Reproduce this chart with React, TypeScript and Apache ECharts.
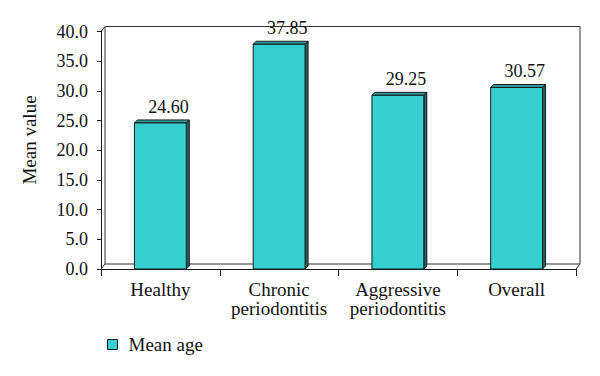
import React, { useEffect, useRef } from "react";
import * as echarts from "echarts";

const categories = ["Healthy", "Chronic\nperiodontitis", "Aggressive\nperiodontitis", "Overall"];
const meanAge = [24.6, 37.85, 29.25, 30.57];
const seriesName = "Mean age";
const yMin = 0;
const yMax = 40;
const yStep = 5;

const FONT = "Liberation Serif, Times New Roman, serif";
const GRID_L = 101;
const GRID_T = 31.5;
const GRID_R = 576;
const GRID_B = 269;
const DX = 4;
const DY = 5;
const FACE = "#35CFCF";
const TOPFACE = "#2B9B9B";
const SIDEFACE = "#1E6464";
const EDGE = "#1a1a1a";

export default function App() {
  const ref = useRef<HTMLDivElement>(null);
  useEffect(() => {
    if (!ref.current) return;
    const chart = echarts.init(ref.current, undefined, { renderer: "svg" });
    const wallStyle = { stroke: "#333", lineWidth: 1, fill: "none" };
    chart.setOption({
      animation: false,
      backgroundColor: "#fff",
      grid: { left: GRID_L, top: GRID_T, right: 600 - GRID_R, bottom: 376 - GRID_B },
      legend: {
        left: 107,
        top: 335,
        padding: 0,
        itemWidth: 10,
        itemHeight: 10,
        data: [{ name: seriesName, icon: "rect" }],
        itemStyle: { color: FACE, borderColor: EDGE, borderWidth: 1 },
        textStyle: { fontFamily: FONT, fontSize: 19, color: "#111", padding: [0, 0, 0, 6] },
      },
      xAxis: {
        type: "category",
        data: categories,
        boundaryGap: true,
        axisLine: { lineStyle: { color: EDGE, width: 1 } },
        axisTick: { show: true, length: 7, interval: 0, lineStyle: { color: EDGE } },
        axisLabel: {
          interval: 0,
          margin: 11,
          fontFamily: FONT,
          fontSize: 19,
          lineHeight: 19,
          color: "#111",
        },
      },
      yAxis: {
        type: "value",
        min: yMin,
        max: yMax,
        interval: yStep,
        splitLine: { show: false },
        axisLine: { show: true, lineStyle: { color: EDGE, width: 1 } },
        axisTick: { show: true, length: 4, lineStyle: { color: EDGE } },
        axisLabel: {
          margin: 13,
          fontFamily: FONT,
          fontSize: 18,
          color: "#111",
          formatter: (v: number) => v.toFixed(1),
        },
      },
      graphic: [
        {
          type: "polyline",
          z: 0,
          shape: {
            points: [
              [GRID_L + DX, GRID_B - DY],
              [GRID_L + DX, GRID_T - DY],
              [GRID_R + DX, GRID_T - DY],
              [GRID_R + DX, GRID_B - DY],
              [GRID_L + DX, GRID_B - DY],
            ],
          },
          style: wallStyle,
        },
        { type: "line", z: 0, shape: { x1: GRID_L, y1: GRID_T, x2: GRID_L + DX, y2: GRID_T - DY }, style: wallStyle },
        { type: "line", z: 0, shape: { x1: GRID_L, y1: GRID_B, x2: GRID_L + DX, y2: GRID_B - DY }, style: wallStyle },
        { type: "line", z: 0, shape: { x1: GRID_R, y1: GRID_B, x2: GRID_R + DX, y2: GRID_B - DY }, style: wallStyle },
        {
          type: "text",
          z: 5,
          x: 29,
          y: 140,
          rotation: Math.PI / 2,
          style: {
            text: "Mean value",
            font: `19px ${FONT}`,
            fill: "#111",
            textAlign: "center",
            textVerticalAlign: "middle",
          },
        },
      ],
      series: [
        {
          type: "custom",
          name: seriesName,
          z: 3,
          itemStyle: { color: FACE },
          data: meanAge.map((v, i) => [i, v]),
          renderItem: (params: any, api: any) => {
            const idx = api.value(0);
            const val = api.value(1);
            const base = api.coord([idx, 0]);
            const top = api.coord([idx, val]);
            const bw = api.size([1, 0])[0] * 0.437;
            const l = top[0] - bw / 2;
            const r = top[0] + bw / 2;
            const d = 3;
            const h = 3;
            return {
              type: "group",
              children: [
                {
                  type: "polygon",
                  shape: { points: [[r, top[1]], [r + d, top[1] - h], [r + d, base[1] - h], [r, base[1]]] },
                  style: { fill: SIDEFACE, stroke: EDGE, lineWidth: 1 },
                },
                {
                  type: "polygon",
                  shape: { points: [[l, top[1]], [l + d, top[1] - h], [r + d, top[1] - h], [r, top[1]]] },
                  style: { fill: TOPFACE, stroke: EDGE, lineWidth: 1 },
                },
                {
                  type: "rect",
                  shape: { x: l, y: top[1], width: bw, height: base[1] - top[1] },
                  style: { fill: FACE, stroke: EDGE, lineWidth: 1 },
                },
                {
                  type: "text",
                  x: top[0] + 8,
                  y: top[1] - h - 4,
                  style: {
                    text: val.toFixed(2),
                    font: `18px ${FONT}`,
                    fill: "#111",
                    textAlign: "center",
                    textVerticalAlign: "bottom",
                  },
                },
              ],
            };
          },
        },
      ],
    });
    return () => chart.dispose();
  }, []);
  return <div ref={ref} style={{ position: "fixed", left: 0, top: 0, width: 600, height: 376 }} />;
}
